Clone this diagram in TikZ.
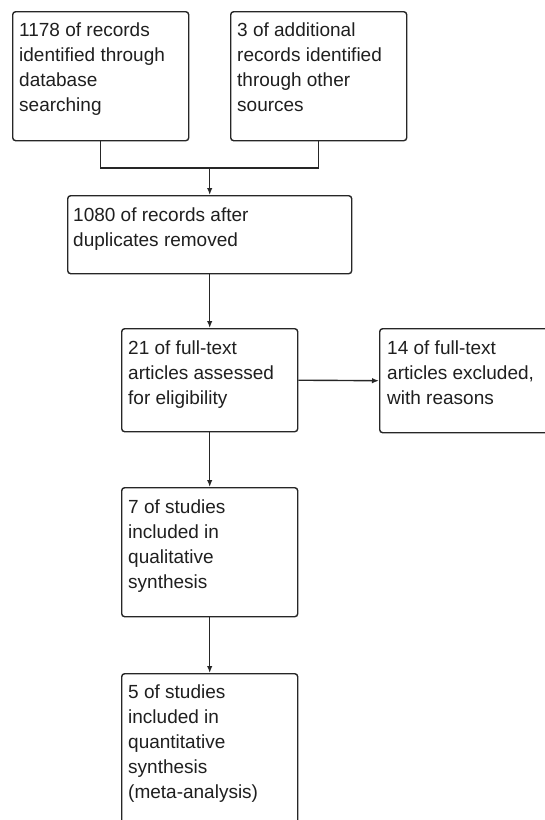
\documentclass[tikz,border=0pt]{standalone}
\usepackage{fontspec}
\setmainfont{Liberation Sans}
\usetikzlibrary{arrows.meta,calc}
\begin{document}
\begin{tikzpicture}[x=1pt,y=-1pt,
  box/.style={draw=black!85, line width=1.4pt, rounded corners=3pt, inner sep=0pt, anchor=north west},
  txt/.style={inner sep=0pt, anchor=north west, align=left, text=black!88, font=\fontsize{19}{25}\selectfont},
  con/.style={draw=black!85, line width=1.4pt},
  arr/.style={con, -{Latex[length=7pt,width=5.5pt]}}]
\useasboundingbox (0,0) rectangle (545,820);
\clip (0,0) rectangle (545,820);
\fill[white] (0,0) rectangle (545,820);
% boxes
\node[box, minimum width=176pt, minimum height=129pt] (b1) at (12,11) {};
\node[box, minimum width=176pt, minimum height=129pt] (b2) at (230,11) {};
\node[box, minimum width=284pt, minimum height=78pt] (b3) at (67,195) {};
\node[box, minimum width=176pt, minimum height=103pt] (b4) at (121,328) {};
\node[box, minimum width=200pt, minimum height=104pt] (b5) at (379,328) {};
\node[box, minimum width=176pt, minimum height=129pt] (b6) at (121,487) {};
\node[box, minimum width=176pt, minimum height=170pt] (b7) at (121,673) {};
% texts
\node[txt] (t1) at ($(b1.north west)+(7,12)$) {1178 of records\\identified through\\database\\searching};
\node[txt] (t2) at ($(b2.north west)+(7,12)$) {3 of additional\\records identified\\through other\\sources};
\node[txt] (t3) at ($(b3.north west)+(6,13)$) {1080 of records after\\duplicates removed};
\node[txt] (t4) at ($(b4.north west)+(7,13)$) {21 of full-text\\articles assessed\\for eligibility};
\node[txt] (t5) at ($(b5.north west)+(8,13)$) {14 of full-text\\articles excluded,\\with reasons};
\node[txt] (t6) at ($(b6.north west)+(7,13)$) {7 of studies\\included in\\qualitative\\synthesis};
\node[txt] (t7) at ($(b7.north west)+(7,12)$) {5 of studies\\included in\\quantitative\\synthesis\\(meta-analysis)};
% connectors
\coordinate (j) at (b3.north |- 0,168);
\draw[con] (b1.south) |- (j) -| (b2.south);
\draw[arr] (j) -- (b3.north);
\draw[arr] (b3.south) -- (b4.north);
\draw[arr] (b4.east) -- (b5.west);
\draw[arr] (b4.south) -- (b6.north);
\draw[arr] (b6.south) -- (b7.north);
\end{tikzpicture}
\end{document}
